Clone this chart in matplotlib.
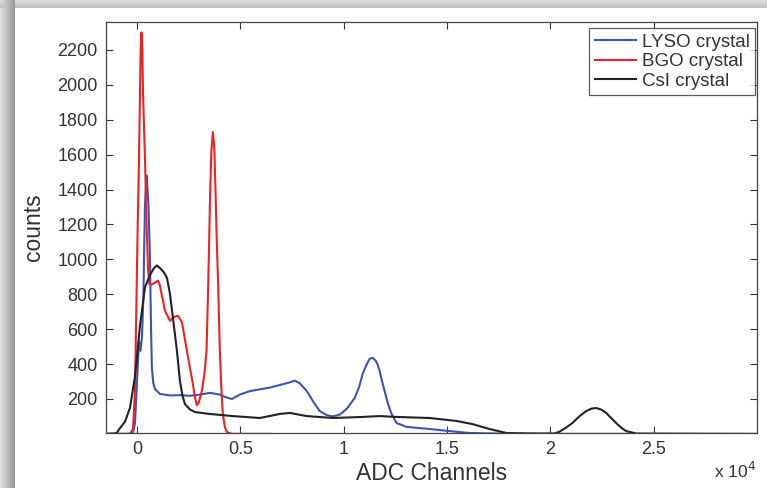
import numpy as np
import matplotlib
matplotlib.use("Agg")
import matplotlib.pyplot as plt

plt.rcParams['font.family'] = ['Liberation Sans', 'DejaVu Sans']

# ADC channel / counts pairs for each crystal spectrum
lyso_x = [-1500, -435, -193, -97, 0, 97, 169, 242, 314, 338, 386, 459, 500, 555, 628,
          680, 720, 790, 870, 1111, 1594, 2077, 2560, 3043, 3527, 4010, 4300, 4590,
          4976, 5459, 5942, 6425, 6908, 7391, 7633, 7874, 8213, 8551, 8841, 9179, 9469,
          9807, 10145, 10532, 10750, 10918, 11100, 11256, 11401, 11546, 11650, 11739,
          11860, 11980, 12150, 12318, 12560, 13043, 14154, 15121, 16087, 17392, 20435,
          23962]
lyso_y = [0, 0, 5, 60, 300, 530, 476, 560, 800, 1005, 1309, 1481, 1420, 1309, 1005,
          600, 378, 290, 257, 229, 220, 222, 218, 225, 235, 225, 210, 200,
          225, 245, 255, 265, 280, 295, 305, 290, 246, 180, 131, 108, 100,
          110, 143, 205, 270, 343, 395, 430, 436, 420, 395, 361,
          300, 246, 170, 114, 62, 40, 28, 16, 5, 2, 0,
          0]

bgo_x = [-1500, -338, -193, -97, -15, 34, 97, 145, 180, 217, 255, 290, 386, 467, 531,
         594, 700, 800, 918, 1015, 1111, 1208, 1353, 1594, 1788, 1981, 2174, 2415,
         2560, 2705, 2800, 2898, 2990, 3140, 3260, 3365, 3445, 3490, 3540, 3600, 3671,
         3740, 3800, 3860, 3929, 3970, 4010, 4080, 4155, 4250, 4348, 4590, 6522]
bgo_y = [0, 0, 30, 250, 849, 1194, 1577, 1960, 2220, 2300, 2220, 1960, 1577, 1194, 950,
         860, 855, 862, 870, 878, 850, 790, 706, 648, 670, 677, 640, 476,
         380, 286, 210, 165, 180, 246, 340, 476, 849, 1100, 1390, 1620, 1730,
         1640, 1390, 1100, 849, 650, 476, 260, 114, 40, 10, 0, 0]

csi_x = [-1500, -1000, -821, -580, -338, -97, 145, 386, 628, 821, 966, 1111, 1304,
         1449, 1594, 1739, 1932, 2077, 2200, 2319, 2560, 2802, 3527, 4638, 5942, 6908,
         7391, 8213, 9469, 10918, 11739, 12560, 14154, 15459, 16232, 17053, 17874,
         18985, 20193, 20435, 20750, 21063, 21400, 21739, 22000, 22222, 22450, 22705,
         22950, 23188, 23430, 23671, 24155, 30000]
csi_y = [0, 3, 33, 70, 150, 330, 620, 840, 910, 950, 965, 950, 925,
         895, 803, 665, 476, 303, 220, 171, 140, 125, 114, 102, 91, 114,
         120, 102, 91, 97, 102, 97, 91, 74, 56, 28, 5,
         2, 2, 12, 35, 62, 100, 131, 145, 148, 140, 120,
         90, 62, 35, 16, 2, 0]

series_labels = ['LYSO crystal', 'BGO crystal', 'CsI crystal']
x_ticks = [0, 5000, 10000, 15000, 20000, 25000]
x_tick_labels = ['0', '0.5', '1', '1.5', '2', '2.5']
y_ticks = [200, 400, 600, 800, 1000, 1200, 1400, 1600, 1800, 2000, 2200]

W, H = 767, 488
fig = plt.figure(figsize=(W / 100, H / 100), dpi=100)

# drop-shadow frame around the white panel
bg = np.ones((H, W))
left_w, top_h = 15, 8
for c in range(left_w):
    bg[:, c] = 0.88 - 0.28 * c / (left_w - 1)
for r in range(top_h):
    bg[r, :] = np.minimum(bg[r, :], 0.86 - 0.10 * r / (top_h - 1))
bax = fig.add_axes([0, 0, 1, 1], zorder=-5)
bax.imshow(np.dstack([bg, bg, bg]), aspect='auto', interpolation='bilinear')
bax.set_axis_off()

ax = fig.add_axes([106 / W, 1 - 433 / H, (757 - 106) / W, (433 - 22) / H])
ax.plot(lyso_x, lyso_y, color='#3b54b3', lw=1.5, label=series_labels[0])
ax.plot(bgo_x, bgo_y, color='#ee2222', lw=1.5, label=series_labels[1])
ax.plot(csi_x, csi_y, color='#222222', lw=1.5, label=series_labels[2])

ax.set_xlim(-1500, 30000)
ax.set_ylim(5, 2360)
ax.set_xticks(x_ticks)
ax.set_xticklabels(x_tick_labels)
ax.set_yticks(y_ticks)
ax.tick_params(direction='in', length=5, width=0.8, top=True, right=True,
               labelsize=13, colors='#333333', pad=6)
for s in ax.spines.values():
    s.set_color('#444444')
    s.set_linewidth(0.9)

ax.set_xlabel('ADC Channels', fontsize=16.5, color='#333333', labelpad=3)
ax.set_ylabel('counts', fontsize=16.5, color='#333333', labelpad=9)
fig.text(735 / W, 1 - 471 / H, r'x 10$^4$', fontsize=12.5, color='#333333',
         ha='center', va='center')

leg = ax.legend(loc='upper right', bbox_to_anchor=(0.997, 0.985), fontsize=13.5,
                frameon=True, fancybox=False, handlelength=2.2, handletextpad=0.3,
                borderpad=0.3, labelspacing=0.12, borderaxespad=0.0)
leg.get_frame().set_edgecolor('#333333')
leg.get_frame().set_linewidth(0.9)
for t in leg.get_texts():
    t.set_color('#333333')

fig.savefig('out.png', dpi=100)
